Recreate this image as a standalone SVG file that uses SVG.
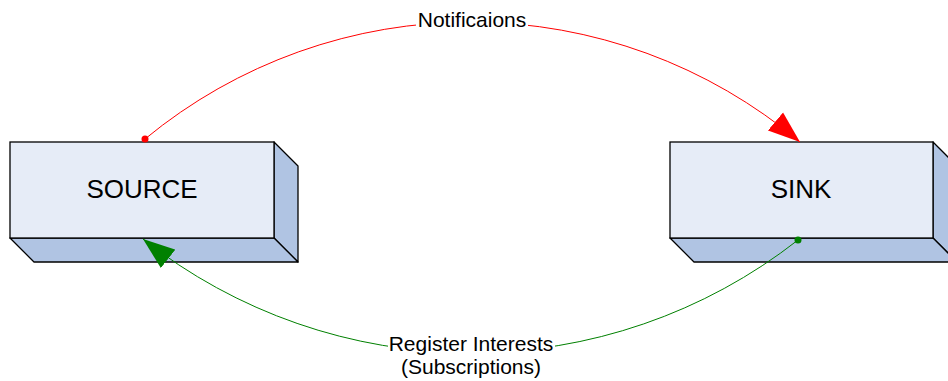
<svg xmlns="http://www.w3.org/2000/svg" width="948" height="381" viewBox="0 0 948 381">
<style>
.front{fill:#E6ECF7;stroke:#000;stroke-width:1.3}
.side{fill:#B0C4E3;stroke:#000;stroke-width:1.3;stroke-linejoin:round}
.lbl{font-family:"Liberation Sans",Arial,sans-serif;fill:#000;text-anchor:middle}
.node{font-size:26px}
.edge{font-size:21px}
</style>
<defs>
<marker id="arrR" markerUnits="userSpaceOnUse" markerWidth="32" markerHeight="24" viewBox="0 0 30 22" refX="30" refY="11" orient="auto"><path d="M0,0 L30,11 L0,22 Z" fill="#FF0000"/></marker>
<marker id="arrG" markerUnits="userSpaceOnUse" markerWidth="32" markerHeight="24" viewBox="0 0 30 22" refX="30" refY="11" orient="auto"><path d="M0,0 L30,11 L0,22 Z" fill="#008000"/></marker>
</defs>
<rect width="948" height="381" fill="#fff"/>
<g id="source">
<polygon class="side" points="274,142 298,166 298,262 274,238"/>
<polygon class="side" points="10,238 274,238 298,262 34,262"/>
<rect class="front" x="10" y="142" width="264" height="96"/>
<text class="lbl node" x="142" y="198">SOURCE</text>
</g>
<g id="sink">
<polygon class="side" points="933,142 957,166 957,262 933,238"/>
<polygon class="side" points="670,238 933,238 957,262 694,262"/>
<rect class="front" x="670" y="142" width="263" height="96"/>
<text class="lbl node" x="801" y="198">SINK</text>
</g>
<g id="connectors">
<path d="M145,139 A512,512 0 0 1 800,142" fill="none" stroke="#FF0000" stroke-width="1" marker-end="url(#arrR)"/>
<circle cx="145" cy="139" r="3.5" fill="#FF0000"/>
<path d="M798,240 A530,530 0 0 1 143,239" fill="none" stroke="#008000" stroke-width="1" marker-end="url(#arrG)"/>
<circle cx="798" cy="240" r="3.5" fill="#008000"/>
<g id="label-notifications">
<rect x="416" y="8" width="112" height="24" fill="#fff"/>
<text class="lbl edge" x="472" y="27">Notificaions</text>
</g>
<g id="label-register">
<rect x="388" y="333" width="167" height="46" fill="#fff"/>
<text class="lbl edge" x="471" y="351">Register Interests</text>
<text class="lbl edge" x="471" y="374">(Subscriptions)</text>
</g>
</g>
</svg>
